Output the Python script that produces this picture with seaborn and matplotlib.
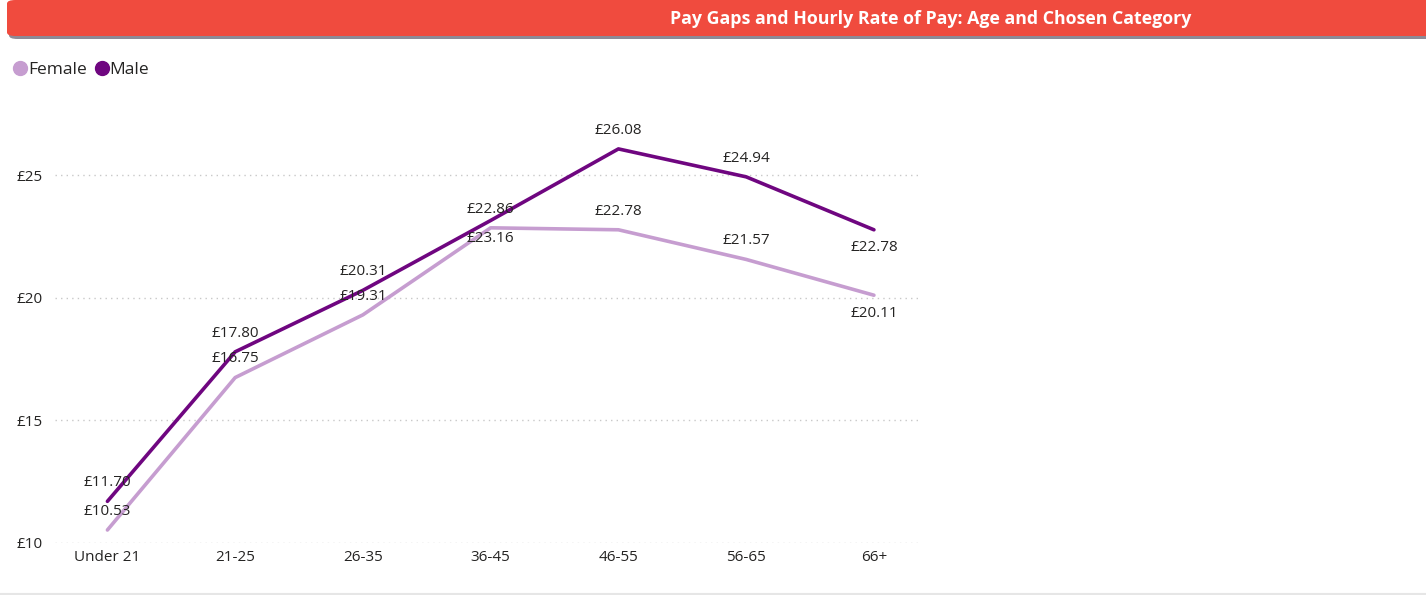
import matplotlib.pyplot as plt
import seaborn as sns
import pandas as pd
from matplotlib.patches import FancyBboxPatch
from matplotlib.lines import Line2D

ages = ['Under 21', '21-25', '26-35', '36-45', '46-55', '56-65', '66+']
female = [10.53, 16.75, 19.31, 22.86, 22.78, 21.57, 20.11]
male = [11.70, 17.80, 20.31, 23.16, 26.08, 24.94, 22.78]
yticks = [10, 15, 20, 25]

title = 'Pay Gaps and Hourly Rate of Pay: Age and Chosen Category'
colors = {'Female': '#C69DD0', 'Male': '#6F0680'}


def main():
  df = pd.DataFrame({
    'age': ages * 2,
    'pay': female + male,
    'sex': ['Female'] * len(ages) + ['Male'] * len(ages),
  })

  sns.set_style('white')
  plt.rcParams['font.family'] = ['Open Sans', 'DejaVu Sans']

  fig = plt.figure(figsize=(14.26, 5.95), dpi=100)
  ax = fig.add_axes([0.0386, 0.0874, 0.6065, 0.72])

  sns.lineplot(data=df, x='age', y='pay', hue='sex', palette=colors,
               linewidth=2.6, legend=False, ax=ax)

  ax.set_xlim(-0.41, 6.36)
  ax.set_ylim(10, 27.48)
  ax.set_yticks(yticks)
  ax.set_yticklabels([f'£{t}' for t in yticks])
  ax.grid(axis='y', linestyle=(0, (1, 3)), color='#C8C8C8', linewidth=1)
  ax.set_xlabel('')
  ax.set_ylabel('')
  sns.despine(ax=ax, left=True, bottom=True)
  ax.tick_params(axis='y', length=0, pad=9, labelsize=11, labelcolor='#252423')
  ax.tick_params(axis='x', length=0, pad=5, labelsize=11, labelcolor='#252423')

  # data labels: which side of the point each sits on
  side = {
    'Female': ['up', 'up', 'up', 'up', 'up', 'up', 'down'],
    'Male': ['up', 'up', 'up', 'down', 'up', 'up', 'down'],
  }
  for name, vals in (('Female', female), ('Male', male)):
    for i, v in enumerate(vals):
      off = 13.5 if side[name][i] == 'up' else -13
      ax.annotate(f'£{v:.2f}', (i, v), xytext=(0, off), textcoords='offset points',
                  ha='center', va='center', fontsize=11, color='#252423')

  # title bar
  fig.patches.append(FancyBboxPatch((9 / 1426, 1 - 39 / 595), 1.2, 36 / 595,
                     boxstyle='round,pad=0,rounding_size=0.006', transform=fig.transFigure,
                     facecolor='#8E8A96', edgecolor='none', zorder=0))
  fig.patches.append(FancyBboxPatch((7 / 1426, 1 - 36 / 595), 1.2, 36 / 595,
                     boxstyle='round,pad=0,rounding_size=0.006', transform=fig.transFigure,
                     facecolor='#F04B3E', edgecolor='none', zorder=1))
  fig.text(931 / 1426, 1 - 19 / 595, title, ha='center', va='center', color='white',
           fontsize=12.8, fontweight='bold')

  handles = [Line2D([], [], marker='o', linestyle='none', markersize=10,
                    markerfacecolor=colors[k], markeredgecolor=colors[k]) for k in colors]
  fig.legend(handles, list(colors), loc='center left', bbox_to_anchor=(-0.004, 1 - 70 / 595),
             frameon=False, ncol=2, handletextpad=-0.15, columnspacing=0.25,
             handlelength=1.2, fontsize=12.5, labelcolor='#252423')

  fig.add_artist(Line2D([0, 1], [1.5 / 595, 1.5 / 595], color='#E6E6E6', linewidth=1.5,
                        transform=fig.transFigure))

  fig.savefig('out.png', dpi=100)


if __name__ == "__main__":
  main()
